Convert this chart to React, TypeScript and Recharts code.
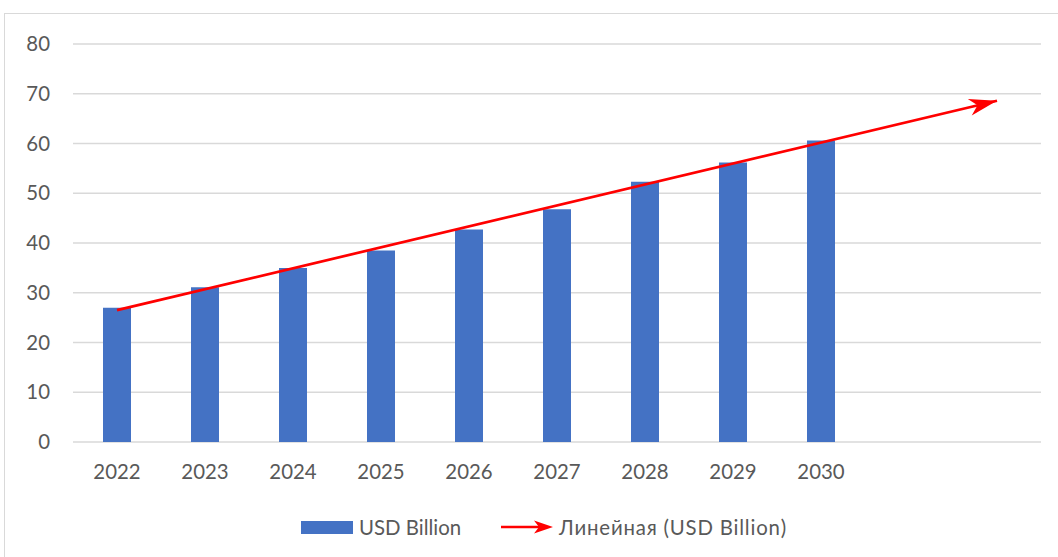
import { Bar, CartesianGrid, ComposedChart, Line, XAxis, YAxis } from "recharts";

// Годы с данными и два пустых слота, до которых тянется прогноз тренда.
const years = ["2022", "2023", "2024", "2025", "2026", "2027", "2028", "2029", "2030"];
const forecastSlots = ["2031", "2032"];
const usdBillion = [27.0, 31.1, 35.0, 38.5, 42.7, 46.8, 52.3, 56.2, 60.6];
// Линия тренда: начало (2022) и конец прогноза (2032).
const trendStart = 26.5;
const trendEnd = 68.6;
const yTicks = [0, 10, 20, 30, 40, 50, 60, 70, 80];

const TEXT = "#595959";
const GRID = "#d9d9d9";
const BLUE = "#4472C4";
const RED = "#FF0000";
const FONT = "Lato, 'Open Sans', sans-serif";
const FONT_SIZE = 20.4;

const categories = [...years, ...forecastSlots];
const data = categories.map((year, i) => ({
  year,
  value: i < usdBillion.length ? usdBillion[i] : null,
  trend: i === 0 ? trendStart : i === categories.length - 1 ? trendEnd : null,
}));

const tickStyle = { fill: TEXT, fontSize: FONT_SIZE, fontFamily: FONT };

export default function App() {
  return (
    <div style={{ position: "absolute", left: 0, top: 0, width: 1058, height: 557, overflow: "hidden", background: "#fff" }}>
      {/* рамка области диаграммы, уходит за правый и нижний край */}
      <div style={{ position: "absolute", left: 4, top: 13, width: 1100, height: 600, border: `1px solid ${GRID}` }} />
      <svg width={0} height={0} style={{ position: "absolute" }}>
        <defs>
          <marker id="trend-arrow" markerUnits="userSpaceOnUse" viewBox="-29 -10 30 20" refX={0} refY={0} markerWidth={30} markerHeight={20} orient="auto">
            <path d="M0,0 L-28,-8.5 L-20,0 L-28,8.5 Z" fill={RED} />
          </marker>
        </defs>
      </svg>
      <div style={{ position: "absolute", left: 0, top: 0 }}>
        <ComposedChart width={1058} height={557} data={data} margin={{ top: 44, right: 17, bottom: 75, left: 0 }}>
          <CartesianGrid stroke={GRID} strokeWidth={1.3} vertical={false} />
          <XAxis
            dataKey="year"
            axisLine={false}
            tickLine={false}
            tickSize={0}
            tickMargin={23}
            height={40}
            interval={0}
            tick={tickStyle}
            tickFormatter={(v: string) => (years.includes(v) ? v : "")}
          />
          <YAxis
            domain={[0, 80]}
            ticks={yTicks}
            axisLine={false}
            tickLine={false}
            tickSize={0}
            tickMargin={23}
            width={73}
            tick={tickStyle}
          />
          <Bar dataKey="value" fill={BLUE} barSize={28} isAnimationActive={false} />
          <Line
            dataKey="trend"
            stroke={RED}
            strokeWidth={2.7}
            connectNulls
            dot={false}
            activeDot={false}
            markerEnd="url(#trend-arrow)"
            isAnimationActive={false}
          />
        </ComposedChart>
      </div>
      {/* легенда */}
      <div style={{ position: "absolute", left: 301, top: 514, height: 26, display: "flex", alignItems: "center", fontFamily: FONT, fontSize: FONT_SIZE, color: TEXT, whiteSpace: "nowrap" }}>
        <span style={{ display: "inline-block", width: 52, height: 13, background: BLUE, marginRight: 6 }} />
        <span>USD Billion</span>
        <svg width={52} height={16} style={{ marginLeft: 40, marginRight: 6 }}>
          <line x1={0} y1={8} x2={46} y2={8} stroke={RED} strokeWidth={2.5} />
          <path d="M52,8 L33,1.5 L38,8 L33,14.5 Z" fill={RED} />
        </svg>
        <span style={{ letterSpacing: 0.8 }}>Линейная (USD Billion)</span>
      </div>
    </div>
  );
}
